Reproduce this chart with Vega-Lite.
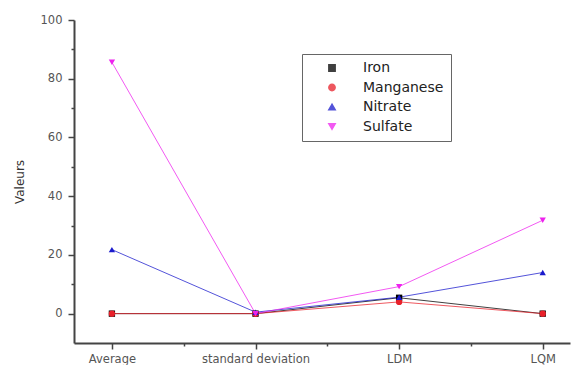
{
  "$schema": "https://vega.github.io/schema/vega-lite/v6.json",
  "width": 496,
  "height": 323,
  "autosize": {"type": "none"},
  "padding": {"left": 74, "top": 20, "right": 1, "bottom": 22},
  "background": "white",
  "config": {
    "view": {"stroke": null},
    "font": "DejaVu Sans",
    "axis": {
      "domainColor": "#444",
      "domainWidth": 2,
      "tickColor": "#444",
      "tickWidth": 1.5,
      "labelColor": "#555",
      "labelFont": "DejaVu Sans",
      "labelFontSize": 11.5,
      "grid": false
    },
    "legend": {
      "orient": "none",
      "legendX": 228,
      "legendY": 34,
      "strokeColor": "#666",
      "fillColor": "white",
      "padding": 7,
      "symbolOffset": 16,
      "labelOffset": 24,
      "rowPadding": 5.5,
      "labelFontSize": 14,
      "labelFont": "DejaVu Sans",
      "labelColor": "#222",
      "symbolSize": 40
    }
  },
  "data": {
    "values": [
      {"stat": 1, "series": "Iron", "value": 0},
      {"stat": 2, "series": "Iron", "value": 0},
      {"stat": 3, "series": "Iron", "value": 5.4},
      {"stat": 4, "series": "Iron", "value": 0},
      {"stat": 1, "series": "Manganese", "value": 0},
      {"stat": 2, "series": "Manganese", "value": 0},
      {"stat": 3, "series": "Manganese", "value": 4.0},
      {"stat": 4, "series": "Manganese", "value": 0},
      {"stat": 1, "series": "Nitrate", "value": 21.8},
      {"stat": 2, "series": "Nitrate", "value": 0.5},
      {"stat": 3, "series": "Nitrate", "value": 5.6},
      {"stat": 4, "series": "Nitrate", "value": 14},
      {"stat": 1, "series": "Sulfate", "value": 85.6},
      {"stat": 2, "series": "Sulfate", "value": 0},
      {"stat": 3, "series": "Sulfate", "value": 9.2},
      {"stat": 4, "series": "Sulfate", "value": 31.8}
    ]
  },
  "encoding": {
    "x": {
      "field": "stat",
      "type": "quantitative",
      "scale": {"domain": [0.736, 4.19], "nice": false, "zero": false},
      "axis": {
        "title": null,
        "values": [1, 1.5, 2, 2.5, 3, 3.5, 4],
        "labelExpr": "datum.value == 1 ? 'Average' : datum.value == 2 ? 'standard deviation' : datum.value == 3 ? 'LDM' : datum.value == 4 ? 'LQM' : ''",
        "tickSize": {"condition": {"test": "datum.value % 1 === 0", "value": 6}, "value": 3},
        "labelPadding": 4,
        "labelFlush": false
      }
    },
    "y": {
      "field": "value",
      "type": "quantitative",
      "scale": {"domain": [-10, 100], "nice": false, "zero": false},
      "axis": {
        "title": "Valeurs",
        "titleFont": "DejaVu Sans",
        "titleFontSize": 12,
        "titleFontWeight": "normal",
        "titleColor": "#333",
        "titlePadding": 14,
        "values": [0, 10, 20, 30, 40, 50, 60, 70, 80, 90, 100],
        "labelExpr": "datum.value % 20 === 0 ? datum.value : ''",
        "tickSize": {"condition": {"test": "datum.value % 20 === 0", "value": 6}, "value": 3},
        "labelPadding": 6
      }
    },
    "color": {
      "field": "series",
      "type": "nominal",
      "scale": {
        "domain": ["Iron", "Manganese", "Nitrate", "Sulfate"],
        "range": ["#000000", "#e8202a", "#1a1acc", "#ee22ee"]
      },
      "legend": {"title": null}
    }
  },
  "layer": [
    {
      "mark": {"type": "line", "strokeWidth": 1, "opacity": 0.75}
    },
    {
      "mark": {"type": "point", "filled": true, "size": 40, "opacity": 1},
      "encoding": {
        "shape": {
          "field": "series",
          "type": "nominal",
          "scale": {
            "domain": ["Iron", "Manganese", "Nitrate", "Sulfate"],
            "range": ["square", "circle", "triangle-up", "triangle-down"]
          },
          "legend": {"title": null}
        }
      }
    }
  ]
}
